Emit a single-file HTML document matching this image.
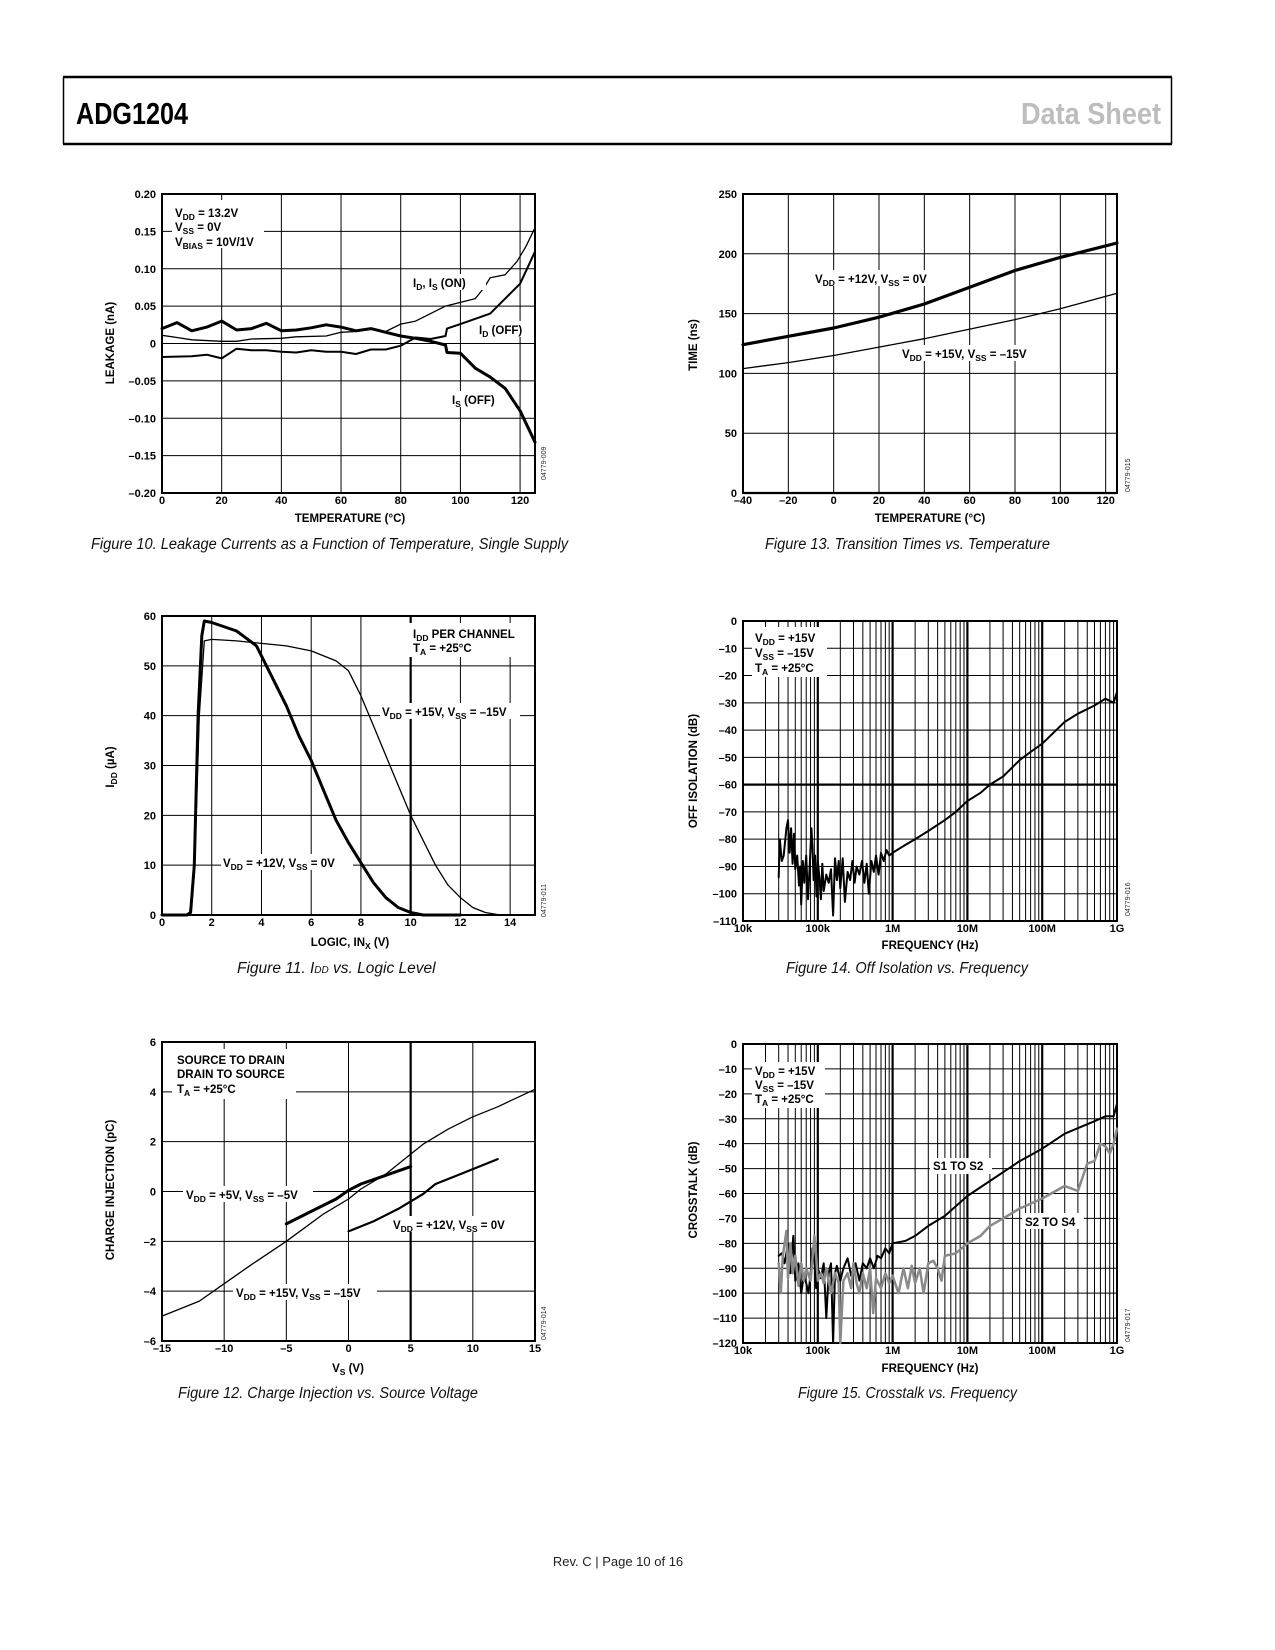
<!DOCTYPE html>
<html><head><meta charset="utf-8"><title>ADG1204 Data Sheet page 10</title>
<style>
html,body{margin:0;padding:0;background:#fff}
svg{display:block}
.t{font:bold 11.5px "Liberation Sans",sans-serif;fill:#000}
.tk{font:bold 11px "Liberation Sans",sans-serif;fill:#000}
.s{font-size:8.5px}
.cap{font:italic 15.5px "Liberation Sans Narrow","Liberation Sans",sans-serif;fill:#111}
.wm{font:7px "Liberation Sans",sans-serif;fill:#333}
</style></head>
<body>
<svg id="page" width="1275" height="1650" viewBox="0 0 1275 1650" xmlns="http://www.w3.org/2000/svg">
<g>
<line x1="63" y1="77" x2="1172" y2="77" stroke="#000" stroke-width="2.5"/>
<line x1="63" y1="144" x2="1172" y2="144" stroke="#000" stroke-width="2.5"/>
<line x1="63.5" y1="77" x2="63.5" y2="144" stroke="#000" stroke-width="1.5"/>
<line x1="1171.5" y1="77" x2="1171.5" y2="144" stroke="#000" stroke-width="1.5"/>
<text x="76" y="124" style="font:bold 31px 'Liberation Sans Narrow','Liberation Sans',sans-serif" textLength="112" lengthAdjust="spacingAndGlyphs">ADG1204</text>
<text x="1161" y="124" text-anchor="end" fill="#bdbdbd" style="font:bold 31px 'Liberation Sans Narrow','Liberation Sans',sans-serif" textLength="140" lengthAdjust="spacingAndGlyphs">Data Sheet</text>
</g>
<g id="plots"></g>
<g id="labels">
<!-- Figure 10 -->
<rect x="172" y="200" width="92" height="48" fill="#fff"/>
<text class="t" x="175" y="217">V<tspan class="s" dy="3">DD</tspan><tspan dy="-3"> = 13.2V</tspan></text>
<text class="t" x="175" y="231">V<tspan class="s" dy="3">SS</tspan><tspan dy="-3"> = 0V</tspan></text>
<text class="t" x="175" y="246">V<tspan class="s" dy="3">BIAS</tspan><tspan dy="-3"> = 10V/1V</tspan></text>
<rect x="410" y="274" width="76" height="16" fill="#fff"/>
<text class="t" x="413" y="287">I<tspan class="s" dy="3">D</tspan><tspan dy="-3">, I</tspan><tspan class="s" dy="3">S</tspan><tspan dy="-3"> (ON)</tspan></text>
<rect x="476" y="321" width="58" height="16" fill="#fff"/>
<text class="t" x="479" y="334">I<tspan class="s" dy="3">D</tspan><tspan dy="-3"> (OFF)</tspan></text>
<rect x="449" y="391" width="56" height="16" fill="#fff"/>
<text class="t" x="452" y="404">I<tspan class="s" dy="3">S</tspan><tspan dy="-3"> (OFF)</tspan></text>
<text class="t" transform="translate(114,343) rotate(-90)" text-anchor="middle">LEAKAGE (nA)</text>
<text class="t" x="350" y="522" text-anchor="middle">TEMPERATURE (°C)</text>
<text class="wm" transform="translate(546,480) rotate(-90)">04779-009</text>
<text class="cap" x="91" y="549" textLength="477" lengthAdjust="spacingAndGlyphs">Figure 10. Leakage Currents as a Function of Temperature, Single Supply</text>

<!-- Figure 13 -->
<rect x="812" y="270" width="130" height="16" fill="#fff"/>
<text class="t" x="815" y="283">V<tspan class="s" dy="3">DD</tspan><tspan dy="-3"> = +12V, V</tspan><tspan class="s" dy="3">SS</tspan><tspan dy="-3"> = 0V</tspan></text>
<rect x="899" y="345" width="142" height="16" fill="#fff"/>
<text class="t" x="902" y="358">V<tspan class="s" dy="3">DD</tspan><tspan dy="-3"> = +15V, V</tspan><tspan class="s" dy="3">SS</tspan><tspan dy="-3"> = –15V</tspan></text>
<text class="t" transform="translate(697,345) rotate(-90)" text-anchor="middle">TIME (ns)</text>
<text class="t" x="930" y="522" text-anchor="middle">TEMPERATURE (°C)</text>
<text class="wm" transform="translate(1130,492) rotate(-90)">04779-015</text>
<text class="cap" x="765" y="549" textLength="285" lengthAdjust="spacingAndGlyphs">Figure 13. Transition Times vs. Temperature</text>

<!-- Figure 11 -->
<rect x="409" y="623" width="118" height="34" fill="#fff"/>
<text class="t" x="413" y="638">I<tspan class="s" dy="3">DD</tspan><tspan dy="-3"> PER CHANNEL</tspan></text>
<text class="t" x="413" y="652">T<tspan class="s" dy="3">A</tspan><tspan dy="-3"> = +25°C</tspan></text>
<rect x="380" y="703" width="140" height="16" fill="#fff"/>
<text class="t" x="382" y="716">V<tspan class="s" dy="3">DD</tspan><tspan dy="-3"> = +15V, V</tspan><tspan class="s" dy="3">SS</tspan><tspan dy="-3"> = –15V</tspan></text>
<rect x="221" y="854" width="132" height="16" fill="#fff"/>
<text class="t" x="223" y="867">V<tspan class="s" dy="3">DD</tspan><tspan dy="-3"> = +12V, V</tspan><tspan class="s" dy="3">SS</tspan><tspan dy="-3"> = 0V</tspan></text>
<text class="t" transform="translate(114,767) rotate(-90)" text-anchor="middle">I<tspan class="s" dy="3">DD</tspan><tspan dy="-3"> (µA)</tspan></text>
<text class="t" x="350" y="946" text-anchor="middle">LOGIC, IN<tspan class="s" dy="3">X</tspan><tspan dy="-3"> (V)</tspan></text>
<text class="wm" transform="translate(546,917) rotate(-90)">04779-011</text>
<text class="cap" x="237" y="973">Figure 11. I<tspan style="font-size:10px">DD</tspan> vs. Logic Level</text>

<!-- Figure 14 -->
<rect x="752" y="627" width="75" height="50" fill="#fff"/>
<text class="t" x="755" y="642">V<tspan class="s" dy="3">DD</tspan><tspan dy="-3"> = +15V</tspan></text>
<text class="t" x="755" y="657">V<tspan class="s" dy="3">SS</tspan><tspan dy="-3"> = –15V</tspan></text>
<text class="t" x="755" y="672">T<tspan class="s" dy="3">A</tspan><tspan dy="-3"> = +25°C</tspan></text>
<text class="t" transform="translate(697,771) rotate(-90)" text-anchor="middle">OFF ISOLATION (dB)</text>
<text class="t" x="930" y="949" text-anchor="middle">FREQUENCY (Hz)</text>
<text class="wm" transform="translate(1130,916) rotate(-90)">04779-016</text>
<text class="cap" x="786" y="973" textLength="242" lengthAdjust="spacingAndGlyphs">Figure 14. Off Isolation vs. Frequency</text>

<!-- Figure 12 -->
<rect x="172" y="1049" width="124" height="50" fill="#fff"/>
<text class="t" x="177" y="1064">SOURCE TO DRAIN</text>
<text class="t" x="177" y="1078">DRAIN TO SOURCE</text>
<text class="t" x="177" y="1093">T<tspan class="s" dy="3">A</tspan><tspan dy="-3"> = +25°C</tspan></text>
<rect x="183" y="1186" width="130" height="16" fill="#fff"/>
<text class="t" x="186" y="1199">V<tspan class="s" dy="3">DD</tspan><tspan dy="-3"> = +5V, V</tspan><tspan class="s" dy="3">SS</tspan><tspan dy="-3"> = –5V</tspan></text>
<rect x="390" y="1216" width="128" height="16" fill="#fff"/>
<text class="t" x="393" y="1229">V<tspan class="s" dy="3">DD</tspan><tspan dy="-3"> = +12V, V</tspan><tspan class="s" dy="3">SS</tspan><tspan dy="-3"> = 0V</tspan></text>
<rect x="233" y="1284" width="144" height="16" fill="#fff"/>
<text class="t" x="236" y="1297">V<tspan class="s" dy="3">DD</tspan><tspan dy="-3"> = +15V, V</tspan><tspan class="s" dy="3">SS</tspan><tspan dy="-3"> = –15V</tspan></text>
<text class="t" transform="translate(114,1190) rotate(-90)" text-anchor="middle">CHARGE INJECTION (pC)</text>
<text class="t" x="348" y="1372" text-anchor="middle">V<tspan class="s" dy="3">S</tspan><tspan dy="-3"> (V)</tspan></text>
<text class="wm" transform="translate(546,1340) rotate(-90)">04779-014</text>
<text class="cap" x="178" y="1398" textLength="300" lengthAdjust="spacingAndGlyphs">Figure 12. Charge Injection vs. Source Voltage</text>

<!-- Figure 15 -->
<rect x="752" y="1062" width="73" height="46" fill="#fff"/>
<text class="t" x="755" y="1075">V<tspan class="s" dy="3">DD</tspan><tspan dy="-3"> = +15V</tspan></text>
<text class="t" x="755" y="1089">V<tspan class="s" dy="3">SS</tspan><tspan dy="-3"> = –15V</tspan></text>
<text class="t" x="755" y="1103">T<tspan class="s" dy="3">A</tspan><tspan dy="-3"> = +25°C</tspan></text>
<rect x="930" y="1158" width="62" height="16" fill="#fff"/>
<text class="t" x="933" y="1170">S1 TO S2</text>
<rect x="1022" y="1213" width="62" height="16" fill="#fff"/>
<text class="t" x="1025" y="1226">S2 TO S4</text>
<text class="t" transform="translate(697,1190) rotate(-90)" text-anchor="middle">CROSSTALK (dB)</text>
<text class="t" x="930" y="1372" text-anchor="middle">FREQUENCY (Hz)</text>
<text class="wm" transform="translate(1130,1342) rotate(-90)">04779-017</text>
<text class="cap" x="798" y="1398" textLength="219" lengthAdjust="spacingAndGlyphs">Figure 15. Crosstalk vs. Frequency</text>

<text x="618" y="1566" text-anchor="middle" style="font:13px 'Liberation Sans Narrow','Liberation Sans',sans-serif" fill="#222">Rev. C | Page 10 of 16</text>
</g>
</svg>
<script>
// ---------- Figure 10 data ----------
const leakOnT = [0,5,10,20,25,30,40,45,55,60,65,70,75,80,85,90,95,100,105,108,110,115,119,122,125];
const leakOnV = [0.011,0.008,0.005,0.003,0.003,0.006,0.007,0.009,0.010,0.015,0.016,0.019,0.016,0.026,0.030,0.040,0.050,0.055,0.060,0.075,0.088,0.092,0.110,0.130,0.155];
const leakIdOffT = [0,10,15,20,25,30,35,40,45,50,55,60,65,70,75,80,85,90,95,95.5,100,105,110,115,120,125];
const leakIdOffV = [-0.018,-0.017,-0.015,-0.020,-0.007,-0.009,-0.009,-0.011,-0.012,-0.009,-0.011,-0.011,-0.014,-0.008,-0.008,-0.003,0.008,0.006,0.010,0.020,0.026,0.033,0.040,0.060,0.080,0.123];
const leakIsOffT = [0,5,10,15,20,25,30,35,40,45,50,55,60,65,70,75,80,85,90,95,95.5,100,105,110,115,120,125];
const leakIsOffV = [0.020,0.028,0.017,0.022,0.030,0.018,0.020,0.027,0.017,0.018,0.021,0.025,0.022,0.017,0.020,0.015,0.010,0.007,0.003,-0.002,-0.012,-0.013,-0.033,-0.045,-0.060,-0.090,-0.132];
const leakXTicks = [0,20,40,60,80,100,120];
const leakYTicks = [-0.20,-0.15,-0.10,-0.05,0,0.05,0.10,0.15,0.20];
const leakYLabels = ["–0.20","–0.15","–0.10","–0.05","0","0.05","0.10","0.15","0.20"];
// ---------- Figure 13 data ----------
const ttT = [-40,-20,0,20,40,60,80,100,125];
const tt12V = [124,131,138,147,158,172,186,197,209];
const tt15V = [104,109,115,122,129,137,145,154,167];
const ttXTicks = [-40,-20,0,20,40,60,80,100,120];
const ttXLabels = ["–40","–20","0","20","40","60","80","100","120"];
const ttYTicks = [0,50,100,150,200,250];
// ---------- Figure 11 data ----------
const idd12X = [0,1.0,1.15,1.3,1.45,1.6,1.7,2,3,3.8,4.5,5,5.5,6,6.5,7,7.5,8,8.5,9,9.5,10,10.5,12];
const idd12Y = [0,0,0.5,10,40,56,59,58.7,57,54,47,42,36,31,25,19,14.5,10.5,6.5,3.5,1.5,0.5,0,0];
const idd15X = [0,1.1,1.3,1.5,1.7,2,3,4,5,6,7,7.5,8,8.5,9,9.5,10,10.5,11,11.5,12,12.5,13,13.6];
const idd15Y = [0,0,8,40,55,55.3,55,54.5,54,53,51,49,44,38,32,26,20,15,10,6,3.5,1.5,0.5,0];
const iddXTicks = [0,2,4,6,8,10,12,14];
const iddYTicks = [0,10,20,30,40,50,60];
// ---------- Figure 14 data ----------
const isoF = [30e3,31e3,33e3,35e3,38e3,40e3,42e3,44e3,46e3,48e3,50e3,53e3,56e3,58e3,60e3,63e3,66e3,70e3,74e3,78e3,82e3,85e3,88e3,92e3,96e3,100e3,105e3,110e3,115e3,120e3,130e3,140e3,150e3,160e3,170e3,180e3,190e3,200e3,215e3,230e3,250e3,270e3,290e3,310e3,330e3,360e3,390e3,420e3,450e3,480e3,520e3,560e3,600e3,650e3,700e3,760e3,830e3,900e3,1e6,1.5e6,2e6,3e6,5e6,7e6,10e6,15e6,20e6,30e6,50e6,70e6,100e6,200e6,300e6,500e6,700e6,900e6,1e9];
const isoDb = [-94,-80,-88,-86,-76,-73,-85,-76,-89,-78,-91,-86,-97,-90,-104,-88,-96,-86,-102,-90,-76,-83,-95,-86,-101,-88,-94,-102,-89,-99,-93,-96,-91,-108,-87,-95,-88,-98,-87,-103,-92,-95,-88,-96,-90,-93,-88,-96,-89,-100,-88,-92,-86,-93,-85,-88,-84,-86,-85,-82,-80,-77,-73,-70,-66,-63,-60,-57,-51,-48,-45,-37,-34,-31,-28.5,-30,-26];
const isoYTicks = [0,-10,-20,-30,-40,-50,-60,-70,-80,-90,-100,-110];
const isoYLabels = ["0","–10","–20","–30","–40","–50","–60","–70","–80","–90","–100","–110"];
const freqTicks = [1e4,1e5,1e6,1e7,1e8,1e9];
const freqLabels = ["10k","100k","1M","10M","100M","1G"];
// ---------- Figure 12 data ----------
const q15X = [-15,-12,-10,-8,-5,-2,0,1,3,5,6,8,10,12,15];
const q15Y = [-5,-4.4,-3.7,-3.0,-2.0,-0.9,-0.3,0.1,0.7,1.5,1.9,2.5,3.0,3.4,4.1];
const q5X = [-5,-3,-1,0,1,3,5];
const q5Y = [-1.3,-0.8,-0.3,0.05,0.3,0.65,1.0];
const q12X = [0,2,4,6,7,9,12];
const q12Y = [-1.6,-1.2,-0.7,-0.1,0.3,0.7,1.3];
const qXTicks = [-15,-10,-5,0,5,10,15];
const qXLabels = ["–15","–10","–5","0","5","10","15"];
const qYTicks = [-6,-4,-2,0,2,4,6];
const qYLabels = ["–6","–4","–2","0","2","4","6"];
// ---------- Figure 15 data ----------
const xt12F = [30e3,33e3,36e3,40e3,43e3,47e3,50e3,55e3,60e3,65e3,70e3,75e3,80e3,85e3,90e3,95e3,100e3,110e3,120e3,130e3,140e3,150e3,160e3,170e3,180e3,200e3,220e3,250e3,280e3,320e3,360e3,400e3,450e3,500e3,560e3,630e3,700e3,800e3,900e3,1e6,1.5e6,2e6,3e6,5e6,10e6,20e6,50e6,100e6,200e6,500e6,700e6,900e6,1e9];
const xt12Db = [-85,-84,-88,-80,-92,-77,-95,-88,-100,-93,-96,-100,-92,-82,-86,-98,-90,-94,-88,-110,-92,-88,-120,-92,-89,-95,-90,-86,-93,-88,-95,-88,-90,-86,-90,-85,-86,-82,-84,-80,-79,-77,-73,-69,-61,-55,-47,-42,-36,-31,-29,-29,-24];
const xt24F = [30e3,32e3,34e3,38e3,40e3,43e3,46e3,50e3,55e3,60e3,65e3,70e3,80e3,90e3,95e3,100e3,110e3,120e3,130e3,150e3,170e3,190e3,200e3,220e3,250e3,280e3,300e3,330e3,360e3,400e3,450e3,500e3,550e3,600e3,700e3,800e3,900e3,1e6,1.2e6,1.4e6,1.6e6,1.8e6,2e6,2.3e6,2.6e6,3e6,3.5e6,4e6,4.5e6,5e6,7e6,10e6,15e6,20e6,30e6,50e6,100e6,200e6,300e6,400e6,500e6,600e6,700e6,800e6,900e6,1e9];
const xt24Db = [-88,-100,-85,-75,-94,-80,-92,-85,-97,-88,-95,-90,-95,-77,-85,-95,-92,-96,-90,-100,-92,-96,-120,-95,-92,-98,-88,-96,-100,-92,-98,-90,-108,-94,-98,-92,-96,-93,-100,-90,-98,-89,-96,-90,-100,-88,-87,-90,-95,-85,-84,-80,-77,-73,-70,-66,-62,-57,-59,-48,-47,-40,-41,-44,-40,-34];
const xtYTicks = [0,-10,-20,-30,-40,-50,-60,-70,-80,-90,-100,-110,-120];
const xtYLabels = ["0","–10","–20","–30","–40","–50","–60","–70","–80","–90","–100","–110","–120"];

const NS = "http://www.w3.org/2000/svg";
const plots = document.getElementById('plots');
function mk(tag, attrs, parent){
  const e = document.createElementNS(NS, tag);
  for (const k in attrs) e.setAttribute(k, attrs[k]);
  parent.appendChild(e);
  return e;
}
function linScale(d0, d1, p0, p1){ return v => p0 + (v - d0) / (d1 - d0) * (p1 - p0); }
function logScale(d0, d1, p0, p1){ return v => p0 + (Math.log10(v) - Math.log10(d0)) / (Math.log10(d1) - Math.log10(d0)) * (p1 - p0); }

function drawChart(name, box, sx, sy, xGrid, yGrid, xTicks, xLabels, yTicks, yLabels, heavyX, heavyY){
  const g = mk('g', {}, plots);
  
  
  xGrid.forEach(v => {
    const x = sx(v);
    const ln = mk('line', {x1:x, y1:box.t, x2:x, y2:box.b, stroke:'#000', 'stroke-width': heavyX.includes(v) ? 2.2 : 1}, g);
    
    
  });
  yGrid.forEach(v => {
    const y = sy(v);
    const ln = mk('line', {x1:box.l, y1:y, x2:box.r, y2:y, stroke:'#000', 'stroke-width': heavyY.includes(v) ? 2.2 : 1}, g);
    
    
  });
  const fr = mk('rect', {x:box.l, y:box.t, width:box.r-box.l, height:box.b-box.t, fill:'none', stroke:'#000', 'stroke-width':2}, g);
  
  
  xTicks.forEach((v, i) => {
    const tx = mk('text', {x:sx(v), y:box.b+11, 'text-anchor':'middle', class:'tk'}, g);
    tx.textContent = xLabels[i];
    
    
  });
  yTicks.forEach((v, i) => {
    const ty = mk('text', {x:box.l-6, y:sy(v)+4, 'text-anchor':'end', class:'tk'}, g);
    ty.textContent = yLabels[i];
    
    
  });
  return g;
}
function drawSeries(g, name, xs, ys, sx, sy, w, color){
  const pts = xs.map((x, i) => sx(x).toFixed(1) + ',' + sy(ys[i]).toFixed(1)).join(' ');
  const pl = mk('polyline', {points:pts, fill:'none', stroke:color || '#000', 'stroke-width':w, 'stroke-linejoin':'round', 'stroke-linecap':'round'}, g);
  
  
}
function logGrid(){
  const a = [];
  for (let d = 1e4; d < 1e9; d *= 10) for (let m = 1; m < 10; m++) a.push(d * m);
  a.push(1e9);
  return a;
}

// Figure 10
(function(){
  const box = {l:162, t:194, r:535, b:493};
  const sx = linScale(0, 125, box.l, box.r), sy = linScale(-0.2, 0.2, box.b, box.t);
  const g = drawChart('fig10-leakage-chart', box, sx, sy, leakXTicks, leakYTicks, leakXTicks, leakXTicks.map(String), leakYTicks, leakYLabels, [], []);
  drawSeries(g, 'series-id-is-on', leakOnT, leakOnV, sx, sy, 1.3);
  drawSeries(g, 'series-id-off', leakIdOffT, leakIdOffV, sx, sy, 2);
  drawSeries(g, 'series-is-off', leakIsOffT, leakIsOffV, sx, sy, 3);
})();
// Figure 13
(function(){
  const box = {l:743, t:194, r:1117, b:493};
  const sx = linScale(-40, 125, box.l, box.r), sy = linScale(0, 250, box.b, box.t);
  const g = drawChart('fig13-transition-chart', box, sx, sy, ttXTicks, ttYTicks, ttXTicks, ttXLabels, ttYTicks, ttYTicks.map(String), [], [0]);
  drawSeries(g, 'series-tt-12v', ttT, tt12V, sx, sy, 3.2);
  drawSeries(g, 'series-tt-15v', ttT, tt15V, sx, sy, 1.3);
})();
// Figure 11
(function(){
  const box = {l:162, t:616, r:535, b:915};
  const sx = linScale(0, 15, box.l, box.r), sy = linScale(0, 60, box.b, box.t);
  const g = drawChart('fig11-idd-chart', box, sx, sy, iddXTicks, iddYTicks, iddXTicks, iddXTicks.map(String), iddYTicks, iddYTicks.map(String), [10], []);
  drawSeries(g, 'series-idd-15v', idd15X, idd15Y, sx, sy, 1.3);
  drawSeries(g, 'series-idd-12v', idd12X, idd12Y, sx, sy, 3);
})();
// Figure 14
(function(){
  const box = {l:743, t:621, r:1117, b:921};
  const sx = logScale(1e4, 1e9, box.l, box.r), sy = linScale(-110, 0, box.b, box.t);
  const g = drawChart('fig14-isolation-chart', box, sx, sy, logGrid(), isoYTicks, freqTicks, freqLabels, isoYTicks, isoYLabels, [1e5,1e6,1e7,1e8], [-60]);
  drawSeries(g, 'series-off-isolation', isoF, isoDb, sx, sy, 2);
})();
// Figure 12
(function(){
  const box = {l:162, t:1042, r:535, b:1341};
  const sx = linScale(-15, 15, box.l, box.r), sy = linScale(-6, 6, box.b, box.t);
  const g = drawChart('fig12-charge-chart', box, sx, sy, qXTicks, qYTicks, qXTicks, qXLabels, qYTicks, qYLabels, [5], []);
  drawSeries(g, 'series-q-15v', q15X, q15Y, sx, sy, 1.3);
  drawSeries(g, 'series-q-12v', q12X, q12Y, sx, sy, 2.2);
  drawSeries(g, 'series-q-5v', q5X, q5Y, sx, sy, 3);
})();
// Figure 15
(function(){
  const box = {l:743, t:1044, r:1117, b:1343};
  const sx = logScale(1e4, 1e9, box.l, box.r), sy = linScale(-120, 0, box.b, box.t);
  const g = drawChart('fig15-crosstalk-chart', box, sx, sy, logGrid(), xtYTicks, freqTicks, freqLabels, xtYTicks, xtYLabels, [1e5,1e6,1e7,1e8], []);
  drawSeries(g, 'series-s1-to-s2', xt12F, xt12Db, sx, sy, 2);
  drawSeries(g, 'series-s2-to-s4', xt24F, xt24Db, sx, sy, 2.5, '#8a8a8a');
})();
</script>
</body></html>
